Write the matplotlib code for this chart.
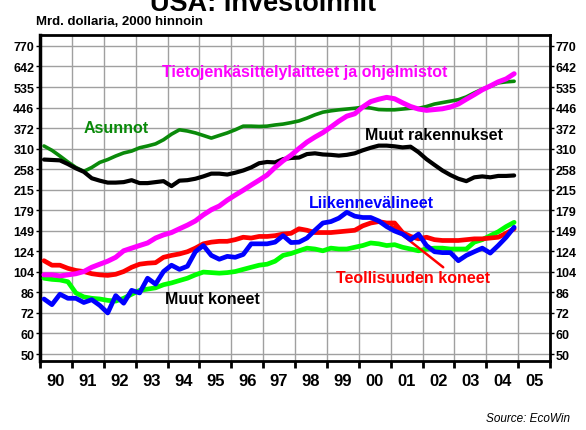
import numpy as np
import matplotlib
matplotlib.use("Agg")
import matplotlib.pyplot as plt
from matplotlib.ticker import FixedLocator, NullFormatter, NullLocator

plt.rcParams['font.family'] = ['Liberation Sans', 'DejaVu Sans']

# ---------------- data (quarterly, 1990Q1 .. 2004Q4) ----------------
start_year = 1990
n_quarters = 60
dates = start_year + 0.125 + 0.25 * np.arange(n_quarters)

asunnot = [317, 305, 290, 275, 262, 253, 262, 274, 281, 290, 298, 303,
           312, 317, 323, 335, 352, 366, 362, 356, 348, 340, 348, 356,
           366, 378, 378, 377, 378, 382, 385, 390, 396, 406, 418, 428,
           433, 437, 440, 443, 447, 444, 438, 437, 437, 440, 443, 443,
           450, 460, 466, 472, 478, 490, 508, 525, 538, 555, 560, 563]

tieto = [101, 101, 100, 101, 102, 104, 108, 111, 114, 118, 125, 128,
         131, 134, 140, 144, 147, 152, 157, 163, 172, 180, 186, 196,
         205, 214, 224, 234, 245, 262, 278, 292, 310, 328, 343, 357,
         375, 395, 413, 422, 448, 470, 480, 488, 482, 465, 450, 440,
         435, 438, 441, 448, 460, 480, 500, 522, 540, 560, 575, 602]

muut_rak = [281, 280, 279, 270, 260, 252, 238, 233, 229, 229, 230, 234,
            228, 228, 230, 232, 222, 233, 234, 237, 242, 248, 248, 246,
            250, 255, 262, 272, 275, 274, 282, 285, 286, 295, 297, 294,
            293, 291, 293, 297, 305, 312, 318, 318, 316, 313, 315, 300,
            282, 268, 255, 245, 237, 232, 240, 242, 240, 243, 243, 244]

muut_koneet = [98, 97, 96.5, 95, 86, 83, 82, 81.5, 80.5, 80, 82, 85,
               88, 89, 90, 92.5, 94, 96, 98, 101, 103.5, 103, 102.5, 103,
               104, 106, 108, 110, 111, 114, 120, 122, 125, 128, 127, 125,
               128, 127, 127, 129, 131, 134, 133, 131, 132, 129, 127, 125,
               127, 128, 128, 127, 127, 127, 135, 138, 143, 148, 155, 161]

teoll = [114.5, 110, 110, 107, 105, 104, 102, 101, 100.5, 101.5, 104, 108,
         111, 112, 112.5, 118, 120, 121.6, 124, 128, 133, 135, 136, 136,
         138, 141, 140, 142, 142, 143, 145, 146, 152, 150, 147, 147,
         147, 148, 149, 150, 156, 160, 162, 160, 160, 147, 142, 139,
         141, 138, 137, 137, 137, 138, 139, 139, 140, 141, 146, 152]

liikenne = [81.5, 77.5, 85, 82, 82, 79, 81, 77, 72, 84, 78.5, 88,
            86, 98, 93, 104, 110, 106, 109, 124, 131, 120, 116, 119,
            118, 121, 133, 133, 133, 135, 143, 134.5, 135, 140, 150, 160,
            162, 167, 176, 170, 168, 168, 163, 155, 149, 145, 138, 145,
            131, 124, 123, 123, 114.5, 120, 124, 128, 122.5, 131, 141, 154]

year_labels = ['90', '91', '92', '93', '94', '95', '96', '97',
               '98', '99', '00', '01', '02', '03', '04', '05']
ytick_labels = ['50', '60', '72', '86', '104', '124', '149', '179',
                '215', '258', '310', '372', '446', '535', '642', '770']

# ---------------- figure ----------------
W, H = 586, 431
fig = plt.figure(figsize=(W / 100, H / 100), dpi=100)
ax = fig.add_axes([40 / W, 1 - 362 / H, 510 / W, (362 - 36) / H])

ax.set_yscale('log')
ax.set_xlim(1990, 2006)
ax.set_ylim(47.0, 849)

yticks = [50 * 1.2 ** k for k in range(len(ytick_labels))]

ax.plot(dates, asunnot, color='#0a8a0a', lw=2.6, solid_capstyle='round', zorder=3)
ax.plot(dates, muut_rak, color='black', lw=3.0, solid_capstyle='round', zorder=3)
ax.plot(dates, muut_koneet, color='#00ff00', lw=3.4, solid_capstyle='round', zorder=3)
ax.plot(dates, teoll, color='#ff0000', lw=3.4, solid_capstyle='round', zorder=3)
ax.plot(dates, liikenne, color='#0000ff', lw=3.4, solid_capstyle='round', zorder=4)
ax.plot(dates, tieto, color='#ff00ff', lw=3.6, solid_capstyle='round', zorder=3)

# y axis
ax.yaxis.set_major_locator(FixedLocator(yticks))
ax.yaxis.set_minor_locator(NullLocator())
ax.set_yticklabels(ytick_labels)
ax.tick_params(axis='y', which='major', direction='out', length=3, width=1,
               labelsize=9, left=True, right=True, labelleft=True, labelright=True, pad=1)
for lab in ax.get_yticklabels():
    lab.set_fontweight('bold')

# x axis
years = np.arange(1990, 2007)
ax.xaxis.set_major_locator(FixedLocator(years))
ax.xaxis.set_major_formatter(NullFormatter())
ax.xaxis.set_minor_locator(FixedLocator(years[:-1] + 0.5))
ax.set_xticklabels(year_labels, minor=True)
ax.tick_params(axis='x', which='major', direction='out', length=5, width=2)
ax.tick_params(axis='x', which='minor', length=0, labelsize=12, pad=9)
for lab in ax.get_xticklabels(minor=True):
    lab.set_fontweight('bold')

ax.grid(True, which='major', color='#a0a0a0', lw=1.0, zorder=0)
ax.set_axisbelow(True)
for s in ax.spines.values():
    s.set_linewidth(2.0)
ax.spines['left'].set_linewidth(2.5)

# ---------------- labels ----------------
bold = dict(fontweight='bold', fontsize=11.5)
ax.text(1993.82, 616, 'Tietojenkäsittelylaitteet ja ohjelmistot', color='#ff00ff',
        ha='left', va='center', **bold)
ax.text(1991.38, 375, 'Asunnot', color='#0a8a0a', ha='left', va='center', **bold)
ax.text(2000.21, 352, 'Muut rakennukset', color='black', ha='left', va='center', **bold)
ax.text(1998.45, 192, 'Liikennevälineet', color='#0000ff', ha='left', va='center', **bold)
ax.text(1993.93, 82.2, 'Muut koneet', color='black', ha='left', va='center', **bold)
ax.text(1999.28, 98.2, 'Teollisuuden koneet', color='#ff0000', ha='left', va='center', **bold)
ax.annotate('', xy=(2000.95, 158), xytext=(2002.65, 108),
            arrowprops=dict(arrowstyle='-|>', color='#ff0000', lw=1.8,
                            mutation_scale=10, shrinkA=0, shrinkB=0))

fig.text(263 / W, 1 - 11 / H, 'USA: Investoinnit', ha='center', va='baseline',
         fontsize=19.5, fontweight='bold')
fig.text(36 / W, 1 - 25 / H, 'Mrd. dollaria, 2000 hinnoin', ha='left', va='baseline',
         fontsize=9.5, fontweight='bold')
fig.text(570 / W, 1 - 419 / H, 'Source: EcoWin', ha='right', va='center',
         fontsize=8.5, style='italic')

fig.savefig('out.png', dpi=100)
